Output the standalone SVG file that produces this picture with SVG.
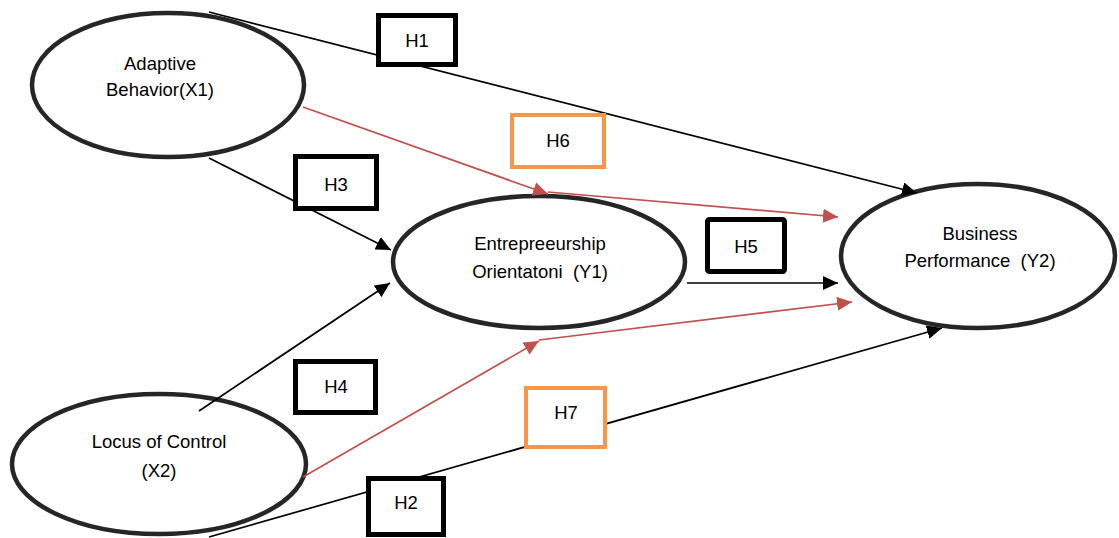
<svg xmlns="http://www.w3.org/2000/svg" width="1119" height="538" viewBox="0 0 1119 538">
<style>
.node{fill:#fff;stroke:#262626;stroke-width:4.5}
.t{font-family:"Liberation Sans",Arial,sans-serif;font-size:18.5px;fill:#000;text-anchor:middle;white-space:pre}
.c{fill:none;stroke:#000;stroke-width:1.7}
.r{fill:none;stroke:#C0504D;stroke-width:1.7}
.hb{fill:#fff;stroke:#000;stroke-width:5}
.ho{fill:#fff;stroke:#F79646;stroke-width:4}
</style>
<defs>
<marker id="ab" markerUnits="userSpaceOnUse" markerWidth="16" markerHeight="14" refX="15" refY="7" orient="auto"><path d="M0,0 L15,7 L0,14 z" fill="#000"/></marker>
<marker id="ar" markerUnits="userSpaceOnUse" markerWidth="16" markerHeight="14" refX="15" refY="7" orient="auto"><path d="M0,0 L15,7 L0,14 z" fill="#C0504D"/></marker>
</defs>
<rect width="1119" height="538" fill="#fff"/>
<g id="X1"><ellipse class="node" cx="168" cy="85" rx="136" ry="72"/><text class="t" x="160" y="70">Adaptive</text><text class="t" x="160" y="96">Behavior(X1)</text></g>
<g id="Y1"><ellipse class="node" cx="539" cy="262" rx="146" ry="66"/><text class="t" x="540" y="250">Entrepreeurship</text><text class="t" x="540" y="278" xml:space="preserve">Orientatoni  (Y1)</text></g>
<g id="Y2"><ellipse class="node" cx="978" cy="256" rx="137" ry="72"/><text class="t" x="980" y="240">Business</text><text class="t" x="980" y="267" xml:space="preserve">Performance  (Y2)</text></g>
<g id="X2"><ellipse class="node" cx="159" cy="464" rx="147" ry="70"/><text class="t" x="159" y="448">Locus of Control</text><text class="t" x="159" y="477">(X2)</text></g>
<g id="connectors">
<line class="c" x1="209" y1="12" x2="917" y2="193" marker-end="url(#ab)"/>
<line class="c" x1="209" y1="158" x2="391" y2="250" marker-end="url(#ab)"/>
<line class="c" x1="199" y1="411" x2="390" y2="283" marker-end="url(#ab)"/>
<line class="c" x1="687" y1="283" x2="838" y2="283" marker-end="url(#ab)"/>
<line class="c" x1="209" y1="537" x2="942" y2="328" marker-end="url(#ab)"/>
<line class="r" x1="303" y1="107" x2="548" y2="194" marker-end="url(#ar)"/>
<line class="r" x1="548" y1="192" x2="838" y2="217" marker-end="url(#ar)"/>
<line class="r" x1="303" y1="477" x2="539" y2="341" marker-end="url(#ar)"/>
<line class="r" x1="539" y1="340" x2="852" y2="302" marker-end="url(#ar)"/>
</g>
<g id="H1"><rect class="hb" x="378.5" y="15.5" width="77" height="49"/><text class="t" x="417" y="47">H1</text></g>
<g id="H6"><rect class="ho" x="512" y="115" width="92" height="52"/><text class="t" x="558" y="147">H6</text></g>
<g id="H3"><rect class="hb" x="295.5" y="156.5" width="81" height="52"/><text class="t" x="336" y="191">H3</text></g>
<g id="H5"><rect class="hb" x="707.5" y="219.5" width="77" height="52" rx="2"/><text class="t" x="746" y="253">H5</text></g>
<g id="H4"><rect class="hb" x="295.5" y="361.5" width="80" height="51"/><text class="t" x="336" y="393">H4</text></g>
<g id="H7"><rect class="ho" x="526" y="388" width="79" height="59"/><text class="t" x="566" y="419">H7</text></g>
<g id="H2"><rect class="hb" x="368.5" y="478.5" width="75" height="56"/><text class="t" x="406" y="509">H2</text></g>
</svg>
